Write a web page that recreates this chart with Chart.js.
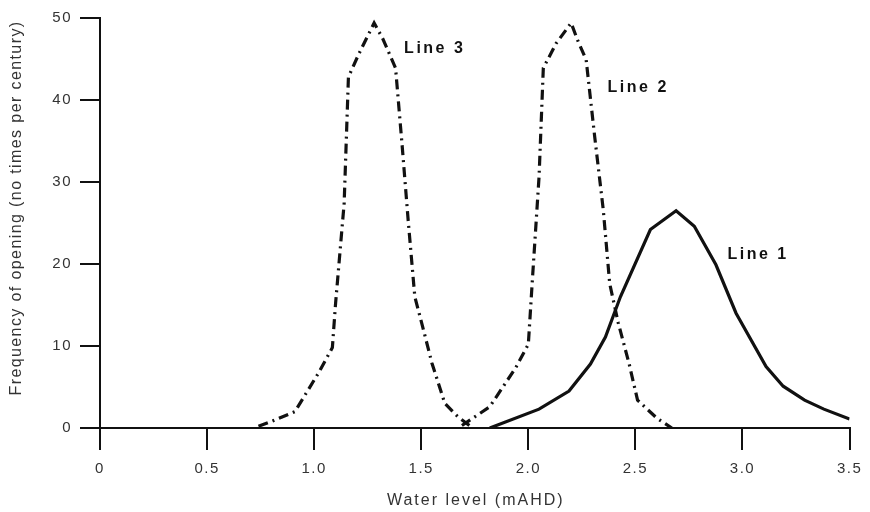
<!DOCTYPE html>
<html>
<head>
<meta charset="utf-8">
<script src="https://cdn.jsdelivr.net/npm/chart.js@4"></script>
<style>
  html, body { margin: 0; padding: 0; background: #fff; }
  #wrap { width: 870px; height: 512px; }
</style>
</head>
<body>
<div id="wrap"><canvas id="chart" width="870" height="512"></canvas></div>
<script>
// Line 1 (solid)
const line1X = [1.82, 2.05, 2.19, 2.29, 2.36, 2.43, 2.57, 2.69, 2.775, 2.876, 2.97, 3.11, 3.19, 3.29, 3.38, 3.50];
const line1Y = [0, 2.3, 4.5, 7.8, 11.1, 16, 24.2, 26.5, 24.6, 19.9, 14, 7.5, 5.1, 3.4, 2.3, 1.1];
// Line 2 (dash-dot)
const line2X = [1.69, 1.82, 1.94, 2.0, 2.02, 2.05, 2.07, 2.13, 2.20, 2.23, 2.27, 2.31, 2.35, 2.38, 2.42, 2.47, 2.51, 2.60, 2.67];
const line2Y = [0.3, 2.6, 7.3, 10.2, 18.5, 30.6, 43.9, 46.9, 49.4, 47.3, 44.9, 35.5, 26.6, 17.6, 12.8, 7.9, 3.4, 1.2, 0];
// Line 3 (dash-dot)
const line3X = [0.74, 0.80, 0.91, 1.02, 1.085, 1.10, 1.14, 1.16, 1.21, 1.28, 1.32, 1.38, 1.41, 1.44, 1.47, 1.51, 1.55, 1.61, 1.67, 1.73];
const line3Y = [0.2, 0.8, 2.0, 6.7, 9.8, 15.2, 27.4, 42.8, 45.7, 49.4, 47.5, 43.9, 34.7, 25, 16, 12, 7.9, 3, 1.4, 0.2];
// labels placed next to the curves (data coords)
const labelText = ['Line 3', 'Line 2', 'Line 1'];
const labelX = [1.42, 2.37, 2.93];
const labelY = [46.3, 41.5, 21.2];

const xTicks = [0, 0.5, 1.0, 1.5, 2.0, 2.5, 3.0, 3.5];
const yTicks = [0, 10, 20, 30, 40, 50];
const xTitle = 'Water level (mAHD)';
const yTitle = 'Frequency of opening (no times per century)';

const toPts = (xs, ys) => xs.map((x, i) => ({ x: x, y: ys[i] }));

const ink = '#111';
const textGrey = '#333';
const fam = '"Liberation Sans", Arial, sans-serif';
const dashDot = [10, 5, 2, 5];

// spaced-out lettering like the original figure (tick labels)
const spacing = {
    id: 'spacing',
    beforeDraw(chart) { chart.ctx.letterSpacing = '1.5px'; }
};

const extras = {
    id: 'extras',
    afterDraw(chart) {
        const { ctx, scales, chartArea } = chart;
        ctx.save();
        ctx.fillStyle = ink;
        ctx.textBaseline = 'middle';
        ctx.textAlign = 'left';
        ctx.letterSpacing = '2.5px';
        ctx.font = 'bold 16px ' + fam;
        labelText.forEach((t, i) => {
            ctx.fillText(t, scales.x.getPixelForValue(labelX[i]), scales.y.getPixelForValue(labelY[i]));
        });
        // axis titles
        ctx.fillStyle = textGrey;
        ctx.font = '16px ' + fam;
        ctx.textAlign = 'center';
        ctx.letterSpacing = '2px';
        ctx.fillText(xTitle, (chartArea.left + chartArea.right) / 2 + 1, 501);
        ctx.translate(17, 208);
        ctx.rotate(-Math.PI / 2);
        ctx.letterSpacing = '1.4px';
        ctx.fillText(yTitle, 0, 0);
        ctx.restore();
    }
};

new Chart(document.getElementById('chart').getContext('2d'), {
    type: 'scatter',
    data: {
        datasets: [
            { data: toPts(line1X, line1Y), borderColor: ink, borderWidth: 3.2, showLine: true, pointRadius: 0, tension: 0 },
            { data: toPts(line2X, line2Y), borderColor: ink, borderWidth: 3.2, borderDash: dashDot, showLine: true, pointRadius: 0, tension: 0 },
            { data: toPts(line3X, line3Y), borderColor: ink, borderWidth: 3.2, borderDash: dashDot, showLine: true, pointRadius: 0, tension: 0 }
        ]
    },
    options: {
        responsive: false,
        animation: false,
        layout: { padding: { left: 0, right: 17, top: 18, bottom: 0 } },
        plugins: { legend: { display: false }, tooltip: { enabled: false } },
        scales: {
            x: {
                type: 'linear',
                min: 0, max: 3.5,
                afterBuildTicks: s => { s.ticks = xTicks.map(v => ({ value: v })); },
                afterFit: s => { s.height = 84; },
                grid: { drawOnChartArea: false, drawTicks: true, tickLength: 22, color: ink, lineWidth: 2 },
                border: { color: ink, width: 2 },
                ticks: {
                    color: textGrey, padding: 10,
                    font: { family: fam, size: 15 },
                    callback: v => v === 0 ? '0' : v.toFixed(1)
                }
            },
            y: {
                min: 0, max: 50,
                afterBuildTicks: s => { s.ticks = yTicks.map(v => ({ value: v })); },
                afterFit: s => { s.width = 100; },
                grid: { drawOnChartArea: false, drawTicks: true, tickLength: 20, color: ink, lineWidth: 2 },
                border: { color: ink, width: 2 },
                ticks: {
                    color: textGrey, padding: 8,
                    font: { family: fam, size: 15 }
                }
            }
        }
    },
    plugins: [spacing, extras]
});
</script>
</body>
</html>
